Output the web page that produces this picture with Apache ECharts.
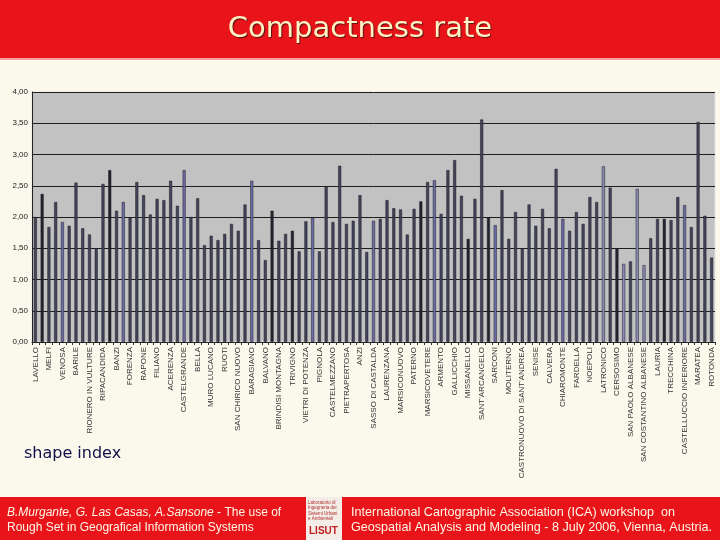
<!DOCTYPE html>
<html>
<head>
<meta charset="utf-8">
<script src="https://cdn.jsdelivr.net/npm/echarts@6/dist/echarts.min.js"></script>
<style>
html,body{margin:0;padding:0;background:#fbf8ec;}
#chart{width:720px;height:540px;}
</style>
</head>
<body>
<div id="chart"></div>
<script>
// Labelled municipalities (every other bar carries a label)
const labelledNames = [
  "LAVELLO","MELFI","VENOSA","BARILE","RIONERO IN VULTURE","RIPACANDIDA","BANZI","FORENZA",
  "RAPONE","FILIANO","ACERENZA","CASTELGRANDE","BELLA","MURO LUCANO","RUOTI",
  "SAN CHIRICO NUOVO","BARAGIANO","BALVANO","BRINDISI MONTAGNA","TRIVIGNO",
  "VIETRI DI POTENZA","PIGNOLA","CASTELMEZZANO","PIETRAPERTOSA","ANZI",
  "SASSO DI CASTALDA","LAURENZANA","MARSICONUOVO","PATERNO","MARSICOVETERE",
  "ARMENTO","GALLICCHIO","MISSANELLO","SANT'ARCANGELO","SARCONI","MOLITERNO",
  "CASTRONUOVO DI SANT'ANDREA","SENISE","CALVERA","CHIAROMONTE","FARDELLA",
  "NOEPOLI","LATRONICO","CERSOSIMO","SAN PAOLO ALBANESE","SAN COSTANTINO ALBANESE",
  "LAURIA","TRECCHINA","CASTELLUCCIO INFERIORE","MARATEA","ROTONDA"
];

// Shape index values, one per bar (101 municipalities)
const shapeIndex = [
  2.00, 2.37, 1.84, 2.24, 1.92, 1.86, 2.55, 1.82, 1.72, 1.50,
  2.53, 2.75, 2.10, 2.24, 1.99, 2.56, 2.35, 2.04, 2.29, 2.27,
  2.58, 2.18, 2.75, 2.00, 2.30, 1.55, 1.70, 1.63, 1.73, 1.89,
  1.78, 2.20, 2.58, 1.63, 1.31, 2.10, 1.62, 1.73, 1.78, 1.45,
  1.93, 1.99, 1.45, 2.49, 1.92, 2.82, 1.89, 1.94, 2.35, 1.44,
  1.94, 1.97, 2.27, 2.14, 2.12, 1.72, 2.13, 2.25, 2.56, 2.59,
  2.05, 2.75, 2.91, 2.34, 1.65, 2.29, 3.56, 1.99, 1.87, 2.43,
  1.65, 2.08, 1.50, 2.20, 1.86, 2.13, 1.82, 2.77, 1.97, 1.78,
  2.08, 1.89, 2.32, 2.24, 2.81, 2.47, 1.50, 1.25, 1.29, 2.45,
  1.23, 1.66, 1.97, 1.97, 1.95, 2.32, 2.19, 1.84, 3.52, 2.02,
  1.35
];

// y-axis tick values
const yTicks = [0, 0.5, 1, 1.5, 2, 2.5, 3, 3.5, 4];

// styling groups (1-based bar numbers)
const blueBars = [5, 14, 23, 33, 42, 51, 60, 69, 79, 97];
const lightBars = [85, 88, 90, 91];
const darkBars = [2, 12, 36, 39, 58, 65, 68, 87, 94];

const categories = shapeIndex.map((v, i) => (i % 2 === 0 ? labelledNames[i / 2] : ''));

function barColor(i) {
  const n = i + 1;
  if (blueBars.includes(n)) return '#6c6ca6';
  if (lightBars.includes(n)) return '#8a8ab4';
  if (darkBars.includes(n)) return '#24242e';
  return '#43435a';
}

const chart = echarts.init(document.getElementById('chart'), null, {renderer: 'canvas'});

const option = {
  backgroundColor: '#fbf8ec',
  animation: false,
  grid: {
    left: 32, right: 5, top: 92, bottom: 198,
    show: true, backgroundColor: '#c2c2c2', borderColor: '#e6e6e6', borderWidth: 1
  },
  xAxis: {
    type: 'category',
    data: categories,
    axisLine: {lineStyle: {color: '#222', width: 1}},
    axisTick: {show: true, interval: 0, length: 3, lineStyle: {color: '#333'}},
    axisLabel: {
      interval: 0, rotate: 90, fontSize: 8, color: '#333',
      fontFamily: 'Liberation Sans', margin: 5
    },
    splitLine: {show: false}
  },
  yAxis: {
    type: 'value',
    min: yTicks[0], max: yTicks[yTicks.length - 1], interval: yTicks[1] - yTicks[0],
    axisLine: {show: true, lineStyle: {color: '#222', width: 1}},
    axisTick: {show: false},
    axisLabel: {
      fontSize: 8, color: '#222', fontFamily: 'Liberation Sans', margin: 4,
      formatter: v => v.toFixed(2).replace('.', ',')
    },
    splitLine: {show: true, lineStyle: {color: '#1e1e1e', width: 1}}
  },
  series: [{
    type: 'bar',
    data: shapeIndex.map((v, i) => ({value: v, itemStyle: {color: barColor(i)}})),
    barWidth: 3,
    itemStyle: {borderColor: '#1c1c24', borderWidth: 0.5}
  }],
  graphic: [
    {type: 'rect', left: 0, top: 0, shape: {width: 720, height: 58}, style: {fill: '#e8141a'}, z: 10},
    {type: 'rect', left: 0, top: 58, shape: {width: 720, height: 2}, style: {fill: '#f2a0a0'}, z: 10},
    {type: 'text', left: 'center', top: 15, z: 11,
      style: {text: 'Compactness rate', fill: '#fdf3c4', font: '29px "DejaVu Sans"',
        textShadowColor: '#5a1010', textShadowOffsetX: 1, textShadowOffsetY: 1, textShadowBlur: 1}},
    {type: 'text', left: 24, top: 446, z: 11,
      style: {text: 'shape index', fill: '#10104a', font: '16px "DejaVu Sans"'}},
    {type: 'rect', left: 0, top: 497, shape: {width: 720, height: 43}, style: {fill: '#e8141a'}, z: 10},
    {type: 'text', left: 7, top: 505, z: 11,
      style: {
        text: '{i|B.Murgante, G. Las Casas, A.Sansone} - The use of\nRough Set in Geografical Information Systems',
        fill: '#fff6e6', font: '12px "Liberation Sans"', lineHeight: 15,
        rich: {i: {fontStyle: 'italic', fill: '#fff6e6', font: 'italic 12px "Liberation Sans"'}}
      }},
    {type: 'text', right: 8, top: 505, z: 11,
      style: {
        text: 'International Cartographic Association (ICA) workshop  on\nGeospatial Analysis and Modeling - 8 July 2006, Vienna, Austria.',
        fill: '#fff6e6', font: '12.6px "Liberation Sans"', lineHeight: 15, align: 'right'
      }},
    {type: 'rect', left: 306, top: 497, shape: {width: 36, height: 43}, style: {fill: '#f4ece6'}, z: 11},
    {type: 'text', left: 308, top: 500, z: 12,
      style: {text: 'Laboratorio di\nIngegneria dei\nSistemi Urbani\ne Ambientali', fill: '#b03030', font: '4.5px "Liberation Sans"', lineHeight: 5.5}},
    {type: 'text', left: 309, top: 526, z: 12,
      style: {text: 'LISUT', fill: '#c02020', font: 'bold 10px "Liberation Sans"'}}
  ]
};
chart.setOption(option);
</script>
</body>
</html>
